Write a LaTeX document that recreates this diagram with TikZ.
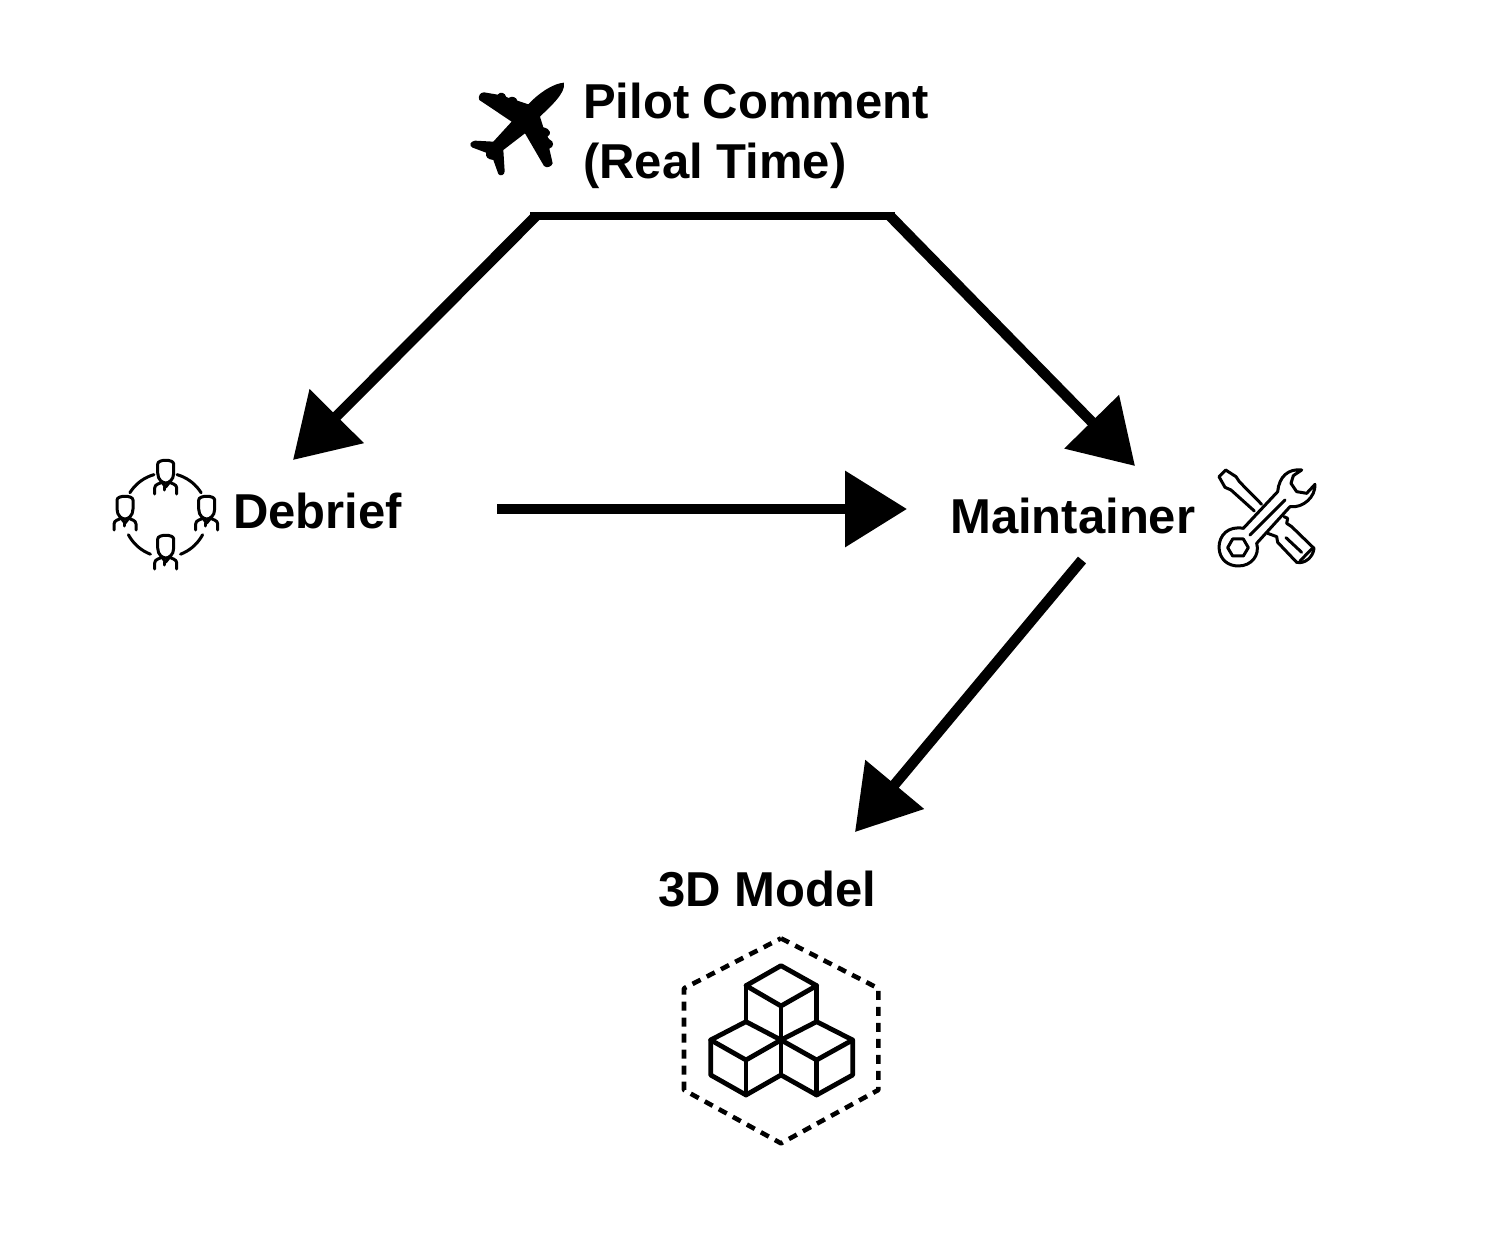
\documentclass[tikz,border=0pt]{standalone}
\usepackage{fontspec}
\setmainfont{Liberation Sans}
\usetikzlibrary{arrows.meta}
\tikzset{
  x=1pt,y=-1pt,
  label text/.style={font=\fontsize{49}{60}\selectfont\bfseries,inner sep=0pt,text=black},
  flow/.style={line width=10.5pt,-{Triangle[length=62pt,width=74pt,sharp]}},
  bus/.style={line width=8pt},
  thin icon/.style={line width=3pt,line cap=round,line join=round},
  cube icon/.style={line width=4.8pt,line cap=round,line join=round},
  dash icon/.style={line width=4.6pt,dash pattern=on 9pt off 7pt,line join=round},
  person/.pic={
    \draw[thin icon] (-8,-23) .. controls (-8,-28) and (8,-28) .. (8,-23)
       -- (8,-14) .. controls (8,-7) and (3,-4) .. (0,-4)
       .. controls (-3,-4) and (-8,-7) .. (-8,-14) -- cycle;
    \draw[thin icon] (-11,7) -- (-11,1) .. controls (-11,-3) and (-6,-3) .. (-4,-5)
       -- (0,0) -- (4,-5) .. controls (6,-3) and (11,-3) .. (11,1) -- (11,7);
    \draw[thin icon] (-1,0) -- (-1,3);
  }
}
\begin{document}
\begin{tikzpicture}
\useasboundingbox (0,0) rectangle (1486,1246);
\fill[white] (0,0) rectangle (1486,1246);

% labels
\node[label text,anchor=base west] (pilot) at (583,119) {Pilot Comment};
\node[label text,anchor=base west] (realtime) at (583,179) {(Real Time)};
\node[label text,anchor=base west] (debrief) at (233,528) {Debrief};
\node[label text,anchor=base west] (maintainer) at (950,533) {Maintainer};
\node[label text,anchor=base west] (model) at (658,906) {3D Model};

% connector ends
\coordinate (busL) at (530,216);
\coordinate (busR) at (895,216);
\coordinate (busLdown) at (536,216);
\coordinate (busRdown) at (890,216);
\coordinate (debriefIn) at (293,460);
\coordinate (maintIn) at (1135,466);
\coordinate (debriefOut) at (497,509);
\coordinate (maintLeft) at (907,509);
\coordinate (maintOut) at (1082,560);
\coordinate (modelIn) at (855,832);

\draw[bus] (busL) -- (busR);
\draw[flow] (busLdown) -- (debriefIn);
\draw[flow] (busRdown) -- (maintIn);
\draw[flow] (debriefOut) -- (maintLeft);
\draw[flow] (maintOut) -- (modelIn);

% airplane
\begin{scope}[shift={(460,70)},x=0.3333pt,y=-0.3333pt]
\fill[black,line join=round] (312,38) .. controls (280,40) and (235,70) .. (205,103)
  -- (172,92) .. controls (170,82) and (155,76) .. (146,84)
  -- (138,80) .. controls (136,68) and (120,64) .. (113,74)
  -- (72,67) .. controls (62,66) and (52,80) .. (58,90)
  -- (155,155) -- (100,215) -- (45,212) .. controls (30,214) and (26,228) .. (38,233)
  -- (78,248) .. controls (76,262) and (84,268) .. (100,270)
  -- (115,312) .. controls (120,320) and (134,316) .. (134,304)
  -- (130,240) -- (195,190) -- (252,288) .. controls (260,296) and (275,290) .. (278,280)
  -- (268,236) .. controls (282,232) and (284,214) .. (268,208)
  -- (262,200) .. controls (276,194) and (272,176) .. (250,172)
  -- (240,140) .. controls (270,110) and (318,70) .. (312,38) -- cycle;
\end{scope}

% debrief icon
\path (165.7,487) pic {person};
\path (125,523) pic {person};
\path (206.7,523) pic {person};
\path (165.7,562) pic {person};
\foreach \a/\b in {148/106,74/32,208/249,291/332}{
  \draw[thin icon] plot[smooth,domain=\a:\b,samples=10] ({165.5+42*cos(\x)},{515-42*sin(\x)});
}

% tools icon
\begin{scope}[shift={(1205,455)},x=0.3333pt,y=-0.3333pt]
\draw[thin icon] (170,148) -- (103,80) -- (93,65) -- (62,45) -- (42,65) -- (60,97) -- (78,105) -- (148,168);
\draw[thin icon] (188,235) -- (215,245) -- (218,262) -- (275,322)
  .. controls (300,328) and (325,305) .. (327,280) -- (260,215) -- (245,205) -- (248,190) -- (237,185);
\draw[thin icon] (243,248) -- (290,292);
\draw[thin icon] (285,318) -- (322,280);
\draw[thin icon] (290,45) .. controls (250,40) and (222,65) .. (218,110) -- (115,220)
  .. controls (70,212) and (42,240) .. (42,278)
  .. controls (44,315) and (70,333) .. (100,333)
  .. controls (140,333) and (165,300) .. (155,265) -- (255,155)
  .. controls (295,160) and (332,125) .. (330,88) -- (305,115) -- (275,110) -- (258,85) -- (265,62) -- cycle;
\draw[thin icon] (135,240) -- (240,135);
\draw[thin icon] (68,278) -- (83,252) -- (115,252) -- (130,278) -- (115,303) -- (83,303) -- cycle;
\end{scope}

% model icon
\begin{scope}[shift={(670,925)},x=0.3333pt,y=-0.3333pt]
\draw[dash icon] (333,40) -- (625,190) -- (625,495) -- (333,655) -- (42,495) -- (42,190) -- cycle;
\draw[cube icon] (333,122) -- (440,182) -- (333,243) -- (228,182) -- cycle;
\draw[cube icon] (228,182) -- (228,290);
\draw[cube icon] (440,182) -- (440,290);
\draw[cube icon] (333,243) -- (333,450);
\draw[cube icon] (228,290) -- (122,345) -- (228,405) -- (333,345) -- cycle;
\draw[cube icon] (122,345) -- (122,450) -- (228,510) -- (333,450) -- (440,510) -- (548,450) -- (548,345) -- (440,290) -- (333,345) -- (440,405) -- (548,345);
\draw[cube icon] (228,405) -- (228,510);
\draw[cube icon] (440,405) -- (440,510);
\end{scope}
\end{tikzpicture}
\end{document}
